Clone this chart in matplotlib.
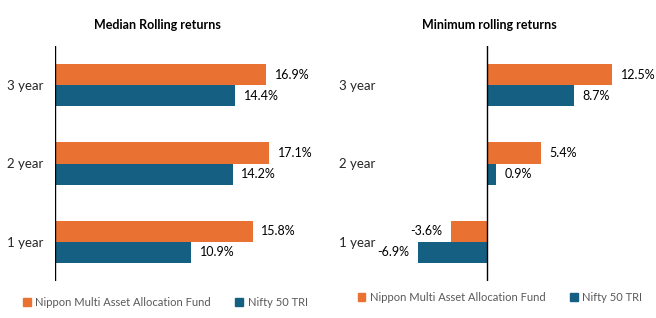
import matplotlib
matplotlib.use("Agg")
import matplotlib.pyplot as plt
from matplotlib.patches import Patch

categories = ["1 year", "2 year", "3 year"]
series_names = ["Nippon Multi Asset Allocation Fund", "Nifty 50 TRI"]
median_fund = [15.8, 17.1, 16.9]
median_nifty = [10.9, 14.2, 14.4]
min_fund = [-3.6, 5.4, 12.5]
min_nifty = [-6.9, 0.9, 8.7]
titles = ["Median Rolling returns", "Minimum rolling returns"]

ORANGE = "#E97132"
BLUE = "#156082"
plt.rcParams['font.family'] = ['Lato', 'DejaVu Sans']

fig = plt.figure(figsize=(6.56, 3.18), dpi=100)
ax1 = fig.add_axes([55/656, 37/318, 250/656, 235/318])
ax2 = fig.add_axes([387/656, 37/318, 250/656, 235/318])

h = 0.27
for ax, fund, nifty, title, xlim, leg_x, leg_y in [
        (ax1, median_fund, median_nifty, titles[0], (0, 20), 0.02, 0.05),
        (ax2, min_fund, min_nifty, titles[1], (-10, 15), 0.53, 0.065)]:
    ys = range(len(categories))
    yf = [y + h/2 for y in ys]
    yn = [y - h/2 for y in ys]
    ax.barh(yf, fund, height=h, color=ORANGE)
    ax.barh(yn, nifty, height=h, color=BLUE)
    for y, v in list(zip(yf, fund)) + list(zip(yn, nifty)):
        off = 0.7 if v >= 0 else -0.7
        ha = 'left' if v >= 0 else 'right'
        ax.text(v + off * (xlim[1]-xlim[0])/20, y, f"{v:.1f}%", ha=ha, va='center',
                fontsize=9, color='#000000')
    ax.set_xlim(*xlim)
    ax.set_ylim(-0.5, 2.5)
    ax.axvline(0, color='black', lw=1)
    for s in ax.spines.values():
        s.set_visible(False)
    ax.set_xticks([])
    ax.set_yticks(list(ys))
    ax.set_yticklabels(categories, fontsize=9.5, color='#262626')
    ax.tick_params(axis='y', length=0, pad=8.6)
    ax.set_title(title, fontsize=9, fontweight='bold', color='#000000', pad=12.5, x=0.41)
    handles = [Patch(color=ORANGE, label=series_names[0]), Patch(color=BLUE, label=series_names[1])]
    fig.legend(handles=handles, loc='center left', bbox_to_anchor=(leg_x, leg_y), ncol=2,
               frameon=False, fontsize=8, labelcolor='#595959', handlelength=0.7,
               handleheight=0.7, handletextpad=0.4, columnspacing=2.2)

fig.savefig("out.png", dpi=100)
